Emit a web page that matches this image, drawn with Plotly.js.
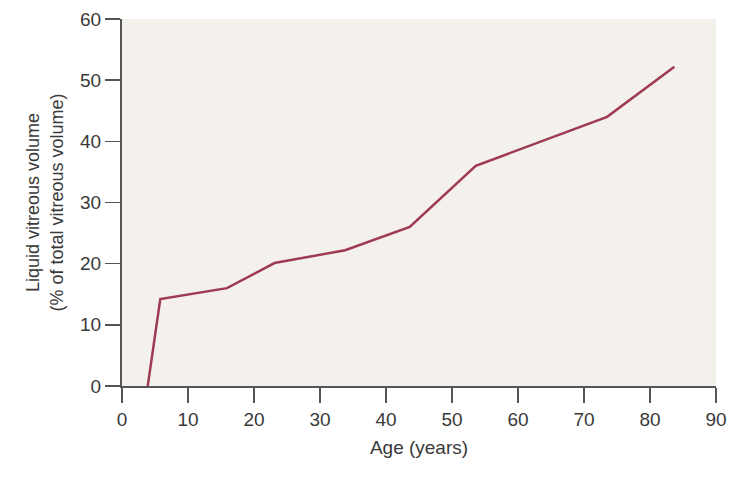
<!DOCTYPE html>
<html>
<head>
<meta charset="utf-8">
<script src="https://cdn.plot.ly/plotly-3.0.1.min.js"></script>
<style>
  html, body { margin: 0; padding: 0; background: #ffffff; }
  #chart { width: 751px; height: 478px; }
</style>
</head>
<body>
<div id="chart"></div>
<script>
// Age (years) against liquid vitreous volume (% of total)
let ages = [3.9, 5.8, 15.9, 23.1, 33.8, 43.6, 53.6, 73.5, 83.7];
let liquidVolume = [0, 14.2, 16.0, 20.1, 22.2, 26.0, 36.0, 44.0, 52.2];

let xTicks = [0, 10, 20, 30, 40, 50, 60, 70, 80, 90];
let yTicks = [0, 10, 20, 30, 40, 50, 60];

function createLineChart(elementId) {
    let trace = {
        x: ages,
        y: liquidVolume,
        type: 'scatter',
        mode: 'lines',
        line: { color: '#9e3a53', width: 2.5 },
        cliponaxis: false,
        hoverinfo: 'none'
    };
    let data = [trace];

    let tickFont = { family: 'Liberation Sans, Arial, sans-serif', size: 19, color: '#3a3a3a' };
    let yTitleFont = { family: 'Liberation Sans, Arial, sans-serif', size: 18, color: '#3a3a3a' };

    // Layout of the chart
    let layout = {
        width: 751,
        height: 478,
        showlegend: false,
        paper_bgcolor: '#ffffff',
        plot_bgcolor: '#f4f1ec',
        font: tickFont,
        margin: { l: 122, r: 35, t: 19, b: 92 },
        xaxis: {
            range: [0, 90],
            tickvals: xTicks,
            ticktext: xTicks.map(String),
            ticks: 'outside',
            ticklen: 15,
            tickwidth: 1.5,
            tickcolor: '#555555',
            showline: true,
            linecolor: '#555555',
            linewidth: 2,
            showgrid: false,
            zeroline: false,
            fixedrange: true,
            tickfont: tickFont,
            title: { text: 'Age (years)', font: tickFont, standoff: 12 }
        },
        yaxis: {
            range: [0, 60],
            tickvals: yTicks,
            ticktext: yTicks.map(String),
            ticks: 'outside',
            ticklen: 15,
            tickwidth: 1.5,
            tickcolor: '#555555',
            showline: true,
            linecolor: '#555555',
            linewidth: 2,
            showgrid: false,
            zeroline: false,
            fixedrange: true,
            tickfont: tickFont,
            title: {
                text: 'Liquid vitreous volume<br>(% of total vitreous volume)',
                font: yTitleFont,
                standoff: 12
            }
        }
    };

    // General chart configuration
    let config = { displayModeBar: false, staticPlot: true };

    Plotly.newPlot(document.getElementById(elementId), data, layout, config);
}

createLineChart('chart');
</script>
</body>
</html>
